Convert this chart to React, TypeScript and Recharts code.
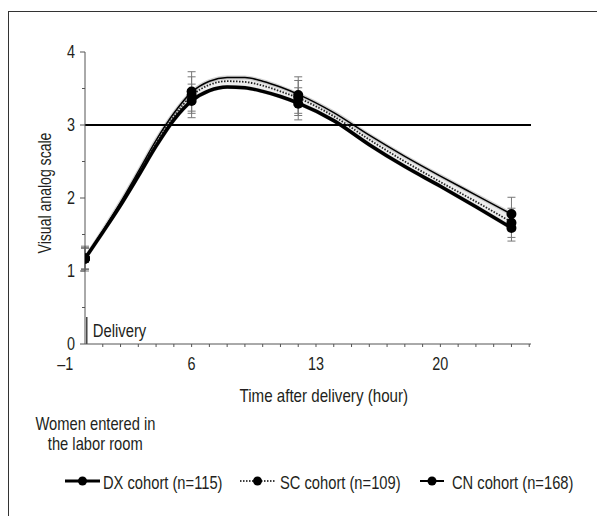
import React from 'react';
import {
  ComposedChart,
  Line,
  Area,
  Scatter,
  ErrorBar,
  XAxis,
  YAxis,
  ReferenceLine,
} from 'recharts';

// fitted curves
const curveHours = [0, 1, 2, 3, 4, 5, 6, 7, 8, 9, 10, 11, 12, 14, 16, 18, 20, 22, 24];
const dxCurve = [1.17, 1.53, 1.9, 2.3, 2.71, 3.07, 3.33, 3.47, 3.52, 3.51, 3.46, 3.39, 3.3, 3.06, 2.73, 2.43, 2.16, 1.88, 1.59];
const scCurve = [1.17, 1.54, 1.92, 2.33, 2.75, 3.12, 3.4, 3.55, 3.6, 3.59, 3.54, 3.46, 3.37, 3.12, 2.8, 2.5, 2.22, 1.95, 1.67];
const cnCurve = [1.17, 1.55, 1.94, 2.36, 2.79, 3.16, 3.45, 3.6, 3.65, 3.65, 3.6, 3.52, 3.42, 3.17, 2.86, 2.57, 2.3, 2.04, 1.78];

// measured means with error
const pointHours = [0, 6, 12, 24];
const dxMean = [1.17, 3.33, 3.29, 1.59];
const scMean = [1.17, 3.41, 3.37, 1.66];
const cnMean = [1.17, 3.46, 3.41, 1.78];
const dxErr = [0.14, 0.23, 0.22, 0.18];
const scErr = [0.15, 0.25, 0.24, 0.2];
const cnErr = [0.17, 0.27, 0.25, 0.23];

const xTicks = [-1, ...Array.from({ length: 26 }, (_, i) => i)];
const xLabels = [-1, 6, 13, 20];
const yTicks = [0, 0.5, 1, 1.5, 2, 2.5, 3, 3.5, 4];

const FONT = '"Liberation Sans", Arial, sans-serif';
const FS = 19;
const INK = '#231f20';
const AXIS = '#555';

const curveData = curveHours.map((h, i) => ({
  hour: h,
  dx: dxCurve[i],
  sc: scCurve[i],
  cn: cnCurve[i],
  band: [dxCurve[i], cnCurve[i]],
}));

const toPoints = (means: number[], errs: number[]) =>
  pointHours.map((h, i) => ({ hour: h, v: means[i], err: errs[i] }));

const dxPoints = toPoints(dxMean, dxErr);
const scPoints = toPoints(scMean, scErr);
const cnPoints = toPoints(cnMean, cnErr);

// condensed-looking svg text: the reference uses a narrow face
const NarrowText = ({ x, y, s, anchor, rotate, baseline, size, children }: any) => (
  <text
    transform={`translate(${x},${y})${rotate ? ` rotate(${rotate})` : ''} scale(${s},1)`}
    textAnchor={anchor || 'start'}
    dominantBaseline={baseline || 'auto'}
    fontSize={size || FS}
    fill={INK}
    fontFamily={FONT}
  >
    {children}
  </text>
);

const XTick = (props: any) => {
  const { x, y, payload } = props;
  const v = payload.value;
  return (
    <g>
      {v > 0 && <line x1={x} x2={x} y1={y} y2={y + 3} stroke={AXIS} strokeWidth={1} />}
      {xLabels.includes(v) && (
        <NarrowText x={v < 0 ? x - 2 : x} y={y + 26} s={0.8} anchor="middle" size={18}>
          {v < 0 ? '–1' : v}
        </NarrowText>
      )}
    </g>
  );
};

const YTick = (props: any) => {
  const { x, y, payload } = props;
  const v = payload.value;
  const major = Number.isInteger(v);
  return (
    <g>
      <line x1={x - (major ? 5 : 3)} x2={x} y1={y} y2={y} stroke={AXIS} strokeWidth={1} />
      {major && (
        <NarrowText x={x - 10} y={y + 6} s={0.8} anchor="end" size={18}>
          {v}
        </NarrowText>
      )}
    </g>
  );
};

const YTitle = (props: any) => {
  const vb = props.viewBox;
  return (
    <NarrowText x={vb.x} y={vb.y + vb.height / 2 - 5} s={0.74} anchor="middle" rotate={-90} baseline="central">
      Visual analog scale
    </NarrowText>
  );
};

const DeliveryLabel = (props: any) => {
  const vb = props.viewBox;
  return (
    <NarrowText x={vb.x + 6} y={vb.y + vb.height / 2} s={0.78} baseline="central">
      Delivery
    </NarrowText>
  );
};

const dot = (p: any) => <circle cx={p.cx} cy={p.cy} r={5} fill="#000" />;

const LegendIcon = ({ kind, w }: { kind: string; w: number }) => (
  <svg width={w} height={12} style={{ display: 'block' }}>
    <line
      x1={0}
      x2={w}
      y1={6}
      y2={6}
      stroke="#000"
      strokeWidth={kind === 'dx' ? 3 : kind === 'cn' ? 2 : 1.5}
      strokeDasharray={kind === 'sc' ? '1.5 1.5' : undefined}
    />
    <circle cx={w / 2} cy={6} r={4.5} fill="#000" />
  </svg>
);

const Squeezed = ({ s, origin, children }: { s: number; origin: string; children: React.ReactNode }) => (
  <span style={{ display: 'inline-block', transform: `scaleX(${s})`, transformOrigin: origin, whiteSpace: 'nowrap' }}>
    {children}
  </span>
);

const LegendEntry = ({ kind, label, left, iconW, textLeft }: any) => (
  <>
    <div style={{ position: 'absolute', left, top: 463 }}>
      <LegendIcon kind={kind} w={iconW} />
    </div>
    <div style={{ position: 'absolute', left: textLeft, top: 461, lineHeight: '20px', fontSize: FS }}>
      <Squeezed s={0.774} origin="left center">
        {label}
      </Squeezed>
    </div>
  </>
);

export default function App() {
  return (
    <div
      style={{
        position: 'absolute',
        left: 8,
        top: 11,
        width: 589,
        height: 505,
        borderLeft: '1px solid #333',
        borderTop: '1px solid #333',
        fontFamily: FONT,
        color: INK,
      }}
    >
      <div style={{ position: 'absolute', left: 0, top: 0 }}>
        <ComposedChart
          width={560}
          height={490}
          data={curveData}
          margin={{ top: 40, right: 38, left: 36, bottom: 88 }}
        >
          <XAxis
            dataKey="hour"
            type="number"
            domain={[0, 25.1]}
            allowDataOverflow
            ticks={xTicks}
            interval={0}
            tickSize={0}
            tickMargin={0}
            tick={<XTick />}
            height={70}
            stroke={AXIS}
          />
          <YAxis
            type="number"
            domain={[0, 4]}
            ticks={yTicks}
            interval={0}
            tickSize={0}
            tickMargin={0}
            tick={<YTick />}
            width={40}
            stroke={AXIS}
            label={<YTitle />}
          />
          <ReferenceLine
            segment={[{ x: 0.1, y: 0 }, { x: 0.1, y: 0.37 }]}
            stroke="#444"
            strokeWidth={1.5}
            label={<DeliveryLabel />}
          />
          <Area
            dataKey="band"
            type="monotone"
            fill="#e2e2e2"
            stroke="#b5b5b5"
            strokeWidth={4}
            strokeOpacity={0.6}
            isAnimationActive={false}
          />
          <ReferenceLine y={3} stroke="#000" strokeWidth={2} />
          <Line dataKey="cn" type="monotone" stroke="#000" strokeWidth={1.5} dot={false} isAnimationActive={false} />
          <Line
            dataKey="sc"
            type="monotone"
            stroke="#222"
            strokeWidth={1.8}
            strokeDasharray="1.5 1.5"
            dot={false}
            isAnimationActive={false}
          />
          <Line dataKey="dx" type="monotone" stroke="#000" strokeWidth={3.5} dot={false} isAnimationActive={false} />
          <Scatter data={cnPoints} dataKey="v" shape={dot} isAnimationActive={false}>
            <ErrorBar dataKey="err" direction="y" width={4} stroke="#777" strokeWidth={1} />
          </Scatter>
          <Scatter data={scPoints} dataKey="v" shape={dot} isAnimationActive={false}>
            <ErrorBar dataKey="err" direction="y" width={4} stroke="#777" strokeWidth={1} />
          </Scatter>
          <Scatter data={dxPoints} dataKey="v" shape={dot} isAnimationActive={false}>
            <ErrorBar dataKey="err" direction="y" width={4} stroke="#777" strokeWidth={1} />
          </Scatter>
        </ComposedChart>
      </div>
      <div
        style={{
          position: 'absolute',
          left: 209,
          top: 374,
          width: 200,
          textAlign: 'center',
          fontSize: FS,
          lineHeight: '20px',
        }}
      >
        <Squeezed s={0.797} origin="center">
          Time after delivery (hour)
        </Squeezed>
      </div>
      <div
        style={{
          position: 'absolute',
          left: 6,
          top: 402,
          width: 160,
          textAlign: 'center',
          fontSize: FS,
          lineHeight: '20px',
        }}
      >
        <Squeezed s={0.774} origin="center">
          Women entered in
        </Squeezed>
        <br />
        <Squeezed s={0.774} origin="center">
          the labor room
        </Squeezed>
      </div>
      <LegendEntry kind="dx" label="DX cohort (n=115)" left={56} iconW={35} textLeft={94} />
      <LegendEntry kind="sc" label="SC cohort (n=109)" left={231} iconW={35} textLeft={271} />
      <LegendEntry kind="cn" label="CN cohort (n=168)" left={411} iconW={24} textLeft={443} />
    </div>
  );
}
